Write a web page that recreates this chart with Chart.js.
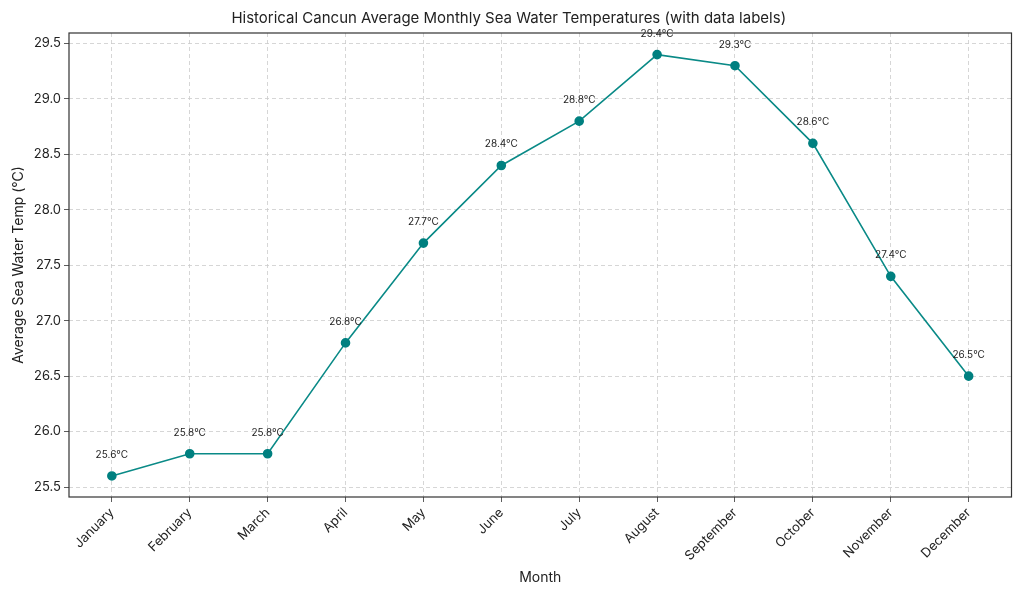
<!DOCTYPE html>
<html><head><meta charset="utf-8">
<script src="https://cdn.jsdelivr.net/npm/chart.js@4/dist/chart.umd.min.js"></script>
<style>html,body{margin:0;padding:0;background:#fff}#wrap{width:1024px;height:597px}</style>
</head><body><div id="wrap"><canvas id="c" width="1024" height="597"></canvas></div>
<script>
const months = ["January","February","March","April","May","June","July","August","September","October","November","December"];
const temps = [25.6,25.8,25.8,26.8,27.7,28.4,28.8,29.4,29.3,28.6,27.4,26.5];
const yTicks = [25.5,26.0,26.5,27.0,27.5,28.0,28.5,29.0,29.5];
const FONT = "Inter, 'Open Sans', sans-serif";

const boxPlugin = {
  id:'box',
  afterDraw(chart){
    const {ctx, chartArea:a} = chart;
    ctx.save(); ctx.strokeStyle='#333'; ctx.lineWidth=1.2;
    ctx.strokeRect(a.left, a.top, a.right-a.left, a.bottom-a.top);
    ctx.restore();
  }
};
const labelPlugin = {
  id:'dlabels',
  afterDatasetsDraw(chart){
    const {ctx} = chart; const meta = chart.getDatasetMeta(0);
    ctx.save(); ctx.font = "10px "+FONT; ctx.fillStyle='#222';
    ctx.textAlign='center'; ctx.textBaseline='middle';
    meta.data.forEach((p,i)=>{ ctx.fillText(temps[i].toFixed(1)+'°C', p.x, p.y-21); });
    ctx.restore();
  }
};

new Chart(document.getElementById('c'), {
  type:'line',
  data:{ datasets:[{ data: temps.map((t,i)=>({x:i,y:t})), borderColor:'#0a8a87', backgroundColor:'#008080',
    pointBackgroundColor:'#008080', pointBorderColor:'#008080', pointRadius:4, borderWidth:1.6, tension:0 }]},
  options:{
    responsive:false, animation:false,
    layout:{padding:{left:6,right:12.5,top:0,bottom:0}},
    plugins:{
      legend:{display:false}, tooltip:{enabled:false},
      title:{display:true, text:'Historical Cancun Average Monthly Sea Water Temperatures (with data labels)',
        color:'#222', font:{family:FONT,size:15,weight:'normal'}, padding:{top:9,bottom:6}}
    },
    scales:{
      x:{ type:'linear', min:-0.55, max:11.55,
        afterBuildTicks(s){ s.ticks = months.map((m,i)=>({value:i})); },
        grid:{color:'#cccccc', lineWidth:0.8, tickColor:'#333', tickLength:5, drawTicks:true},
        border:{display:false, dash:[4,3]},
        ticks:{color:'#222', font:{family:FONT,size:13}, maxRotation:45, minRotation:45, autoSkip:false,
          callback:(v)=>months[v]},
        title:{display:true, text:'Month', color:'#222', font:{family:FONT,size:14}, padding:{top:0,bottom:11}},
        afterFit(s){ s.height = 100; }
      },
      y:{ type:'linear', min:25.41, max:29.595,
        afterBuildTicks(s){ s.ticks = yTicks.map(v=>({value:v})); },
        grid:{color:'#cccccc', lineWidth:0.8, tickColor:'#333', tickLength:5},
        border:{display:false, dash:[4,3]},
        ticks:{color:'#222', font:{family:FONT,size:13}, callback:v=>Number(v).toFixed(1)},
        title:{display:true, text:'Average Sea Water Temp (°C)', color:'#222', font:{family:FONT,size:14}},
        afterFit(s){ s.width = 63; }
      }
    }
  },
  plugins:[boxPlugin,labelPlugin]
});
</script></body></html>
